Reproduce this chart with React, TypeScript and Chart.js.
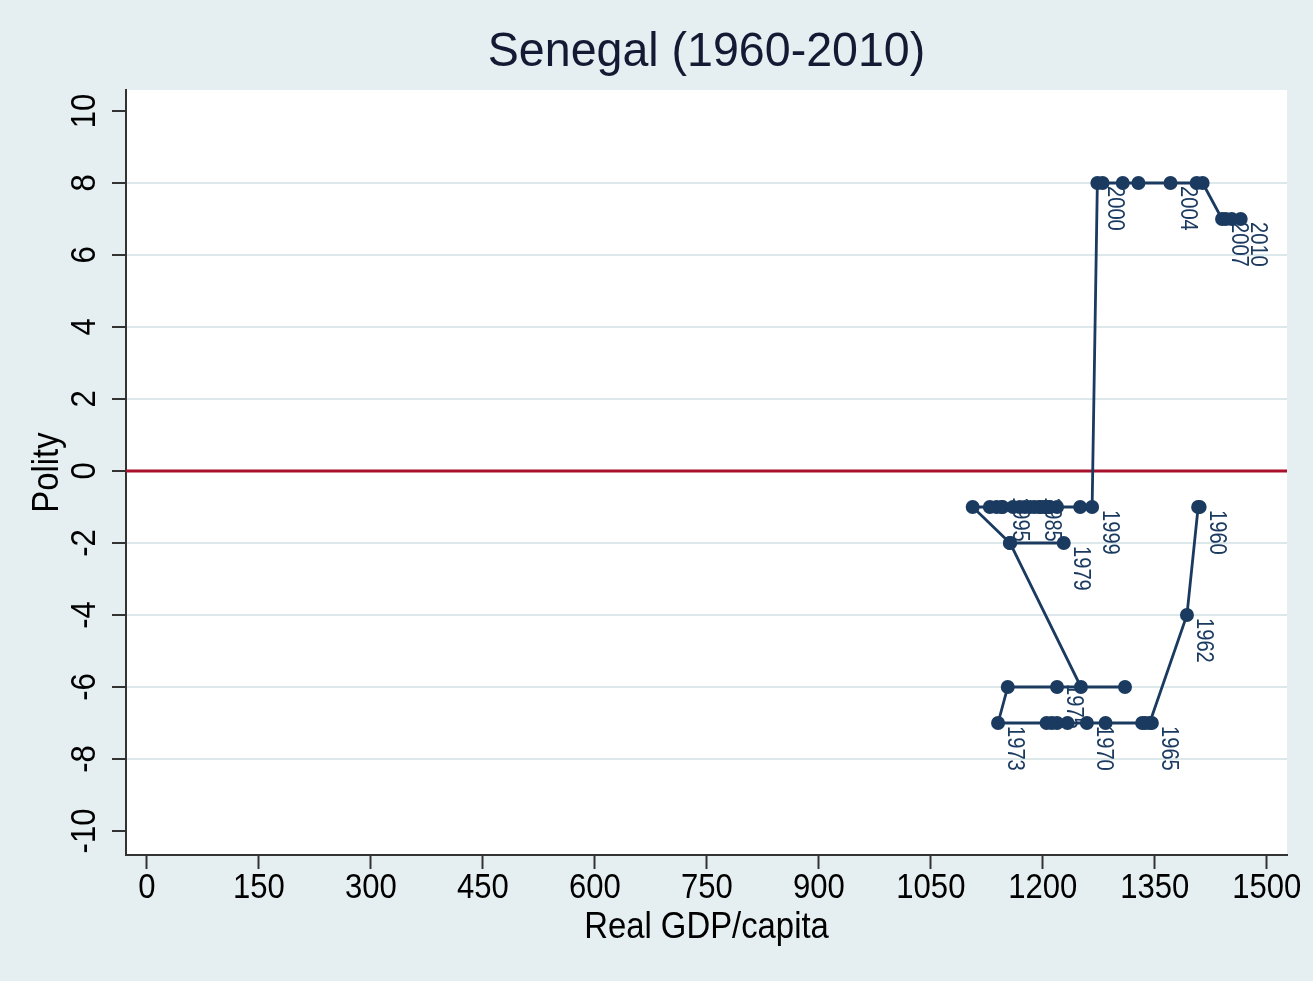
import React, { useEffect, useRef } from 'react';
import { Chart, registerables } from 'chart.js';

Chart.register(...registerables);

// ---- data ----
const years = [
  1960, 1961, 1962, 1963, 1964, 1965, 1966, 1967, 1968, 1969,
  1970, 1971, 1972, 1973, 1974, 1975, 1976, 1977, 1978, 1979,
  1980, 1981, 1982, 1983, 1984, 1985, 1986, 1987, 1988, 1989,
  1990, 1991, 1992, 1993, 1994, 1995, 1996, 1997, 1998, 1999,
  2000, 2001, 2002, 2003, 2004, 2005, 2006, 2007, 2008, 2009, 2010,
];
const gdp = [
  1410, 1408, 1393, 1343, 1337, 1346, 1333, 1284, 1212, 1233,
  1259, 1219, 1205, 1140, 1153, 1219, 1310, 1251, 1156, 1228,
  1156, 1106, 1138, 1129, 1145, 1189, 1196, 1203, 1209, 1196,
  1219, 1209, 1203, 1183, 1169, 1146, 1160, 1176, 1250, 1266,
  1273, 1280, 1307, 1328, 1371, 1406, 1414, 1440, 1445, 1453, 1465,
];
const polity = [
  -1, -1, -4, -7, -7, -7, -7, -7, -7, -7,
  -7, -7, -7, -7, -6, -6, -6, -6, -2, -2,
  -2, -1, -1, -1, -1, -1, -1, -1, -1, -1,
  -1, -1, -1, -1, -1, -1, -1, -1, -1, -1,
  8, 8, 8, 8, 8, 8, 8, 7, 7, 7, 7,
];
const labeledYears = [1960, 1962, 1965, 1970, 1973, 1975, 1979, 1985, 1995, 1999, 2000, 2004, 2007, 2010];
const xTicks = [0, 150, 300, 450, 600, 750, 900, 1050, 1200, 1350, 1500];
const yTicks = [-10, -8, -6, -4, -2, 0, 2, 4, 6, 8, 10];
const refLineY = 0;
const xRange = [-28, 1527];
const yRange = [-10.667, 10.583];

const titleText = 'Senegal (1960-2010)';
const xTitle = 'Real GDP/capita';
const yTitle = 'Polity';

// small per-label shifts along the label direction (px), where labels sit partly behind markers
const labelShift: Record<number, number> = { 1975: -6, 1985: -13, 1995: -13 };

export default function App() {
  const ref = useRef<HTMLCanvasElement>(null);

  useEffect(() => {
    const canvas = ref.current;
    if (!canvas) return;
    const NAVY = '#1b3a60';
    const RED = '#a8102c';
    const FONT = '"Liberation Sans", Arial, sans-serif';

    const drawText = (
      ctx: CanvasRenderingContext2D,
      text: string,
      x: number,
      y: number,
      size: number,
      rot: number,
      sx: number,
      align: CanvasTextAlign = 'center',
    ) => {
      ctx.save();
      ctx.translate(x, y);
      ctx.rotate(rot);
      ctx.scale(sx, 1);
      ctx.font = `${size}px ${FONT}`;
      ctx.textAlign = align;
      ctx.textBaseline = 'middle';
      ctx.fillText(text, 0, 0);
      ctx.restore();
    };

    const bgPlugin = {
      id: 'bgPlugin',
      beforeDraw(c: any) {
        const { ctx, chartArea: a } = c;
        ctx.save();
        ctx.fillStyle = '#e5eef0';
        ctx.fillRect(0, 0, c.width, c.height);
        ctx.fillStyle = '#ffffff';
        ctx.fillRect(a.left, a.top, a.right - a.left, a.bottom - a.top);
        ctx.restore();
      },
    };

    const yearLabels = {
      id: 'yearLabels',
      beforeDatasetsDraw(c: any) {
        const { ctx } = c;
        const meta = c.getDatasetMeta(1);
        ctx.save();
        ctx.fillStyle = NAVY;
        years.forEach((yr, i) => {
          if (!labeledYears.includes(yr)) return;
          const el = meta.data[i];
          if (!el) return;
          const shift = labelShift[yr] || 0;
          drawText(ctx, String(yr), el.x + 17, el.y + 3 + shift, 24, Math.PI / 2, 0.84, 'left');
        });
        ctx.restore();
      },
    };

    const axisText = {
      id: 'axisText',
      afterDraw(c: any) {
        const { ctx, chartArea: a } = c;
        const xs = c.scales.x;
        const ys = c.scales.y;
        ctx.save();
        ctx.fillStyle = '#000';
        xTicks.forEach((v) => {
          drawText(ctx, String(v), xs.getPixelForValue(v), a.bottom + 33, 34.5, 0, 0.9);
        });
        yTicks.forEach((v) => {
          drawText(ctx, String(v), a.left - 41, ys.getPixelForValue(v), 34.5, -Math.PI / 2, 0.9);
        });
        drawText(ctx, xTitle, (a.left + a.right) / 2, a.bottom + 73, 36.5, 0, 0.9);
        drawText(ctx, yTitle, a.left - 78, (a.top + a.bottom) / 2, 36.5, -Math.PI / 2, 0.9);
        ctx.fillStyle = '#141a33';
        drawText(ctx, titleText, (a.left + a.right) / 2, 52, 49, 0, 0.95);
        ctx.restore();
      },
    };

    const chart = new Chart(canvas, {
      type: 'scatter',
      data: {
        datasets: [
          {
            data: xRange.map((x) => ({ x, y: refLineY })),
            showLine: true,
            borderColor: RED,
            borderWidth: 3,
            pointRadius: 0,
            order: 2,
          },
          {
            data: gdp.map((g, i) => ({ x: g, y: polity[i] })),
            showLine: true,
            borderColor: NAVY,
            borderWidth: 2.8,
            pointRadius: 7,
            pointBackgroundColor: NAVY,
            pointBorderColor: NAVY,
            pointBorderWidth: 0,
            order: 1,
          },
        ],
      },
      options: {
        responsive: false,
        animation: false,
        devicePixelRatio: 1,
        layout: { padding: { top: 90, right: 26, left: 0, bottom: 0 } },
        plugins: {
          legend: { display: false },
          tooltip: { enabled: false },
          title: { display: false },
        },
        scales: {
          x: {
            type: 'linear',
            min: xRange[0],
            max: xRange[1],
            afterBuildTicks: (s: any) => {
              s.ticks = xTicks.map((v) => ({ value: v }));
            },
            afterFit: (s: any) => {
              s.height = 126;
            },
            ticks: { display: false },
            grid: {
              drawOnChartArea: false,
              drawTicks: true,
              tickLength: 14,
              tickColor: '#333',
              tickWidth: 2,
            },
            border: { display: true, color: '#333', width: 2 },
          },
          y: {
            type: 'linear',
            min: yRange[0],
            max: yRange[1],
            afterBuildTicks: (s: any) => {
              s.ticks = yTicks.map((v) => ({ value: v }));
            },
            afterFit: (s: any) => {
              s.width = 126;
            },
            ticks: { display: false },
            grid: {
              drawOnChartArea: true,
              drawTicks: true,
              tickLength: 14,
              tickColor: '#333',
              tickWidth: 2,
              lineWidth: 2,
              color: (ctx: any) => {
                const v = ctx.tick ? ctx.tick.value : null;
                return v === 10 || v === -10 || v === 0 ? 'rgba(0,0,0,0)' : '#dde8eb';
              },
            },
            border: { display: true, color: '#333', width: 2 },
          },
        },
      },
      plugins: [bgPlugin, yearLabels, axisText],
    } as any);

    return () => chart.destroy();
  }, []);

  return (
    <div style={{ position: 'absolute', left: 0, top: 0, width: 1313, height: 981 }}>
      <canvas ref={ref} width={1313} height={981} style={{ width: 1313, height: 981 }} />
    </div>
  );
}
